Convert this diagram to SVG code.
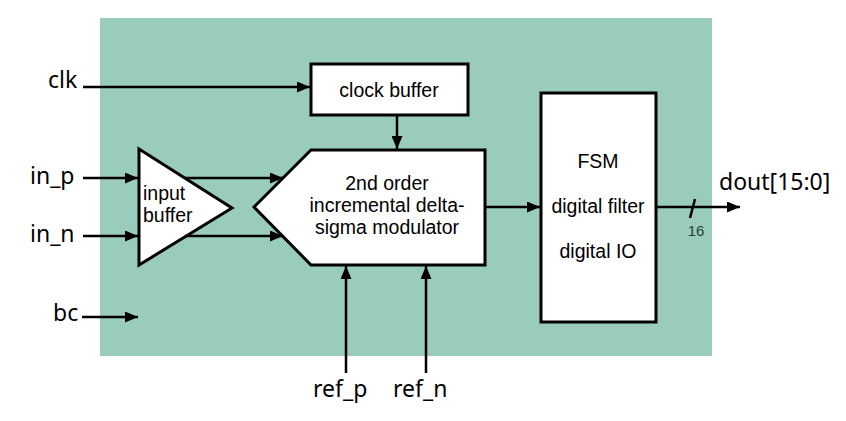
<svg xmlns="http://www.w3.org/2000/svg" width="846" height="421" viewBox="0 0 846 421">
<style>
.blk{fill:#fff;stroke:#000;stroke-width:3;stroke-linejoin:miter}
.t{font-family:"Liberation Sans",Arial,sans-serif;font-size:19.5px;fill:#000;text-anchor:middle}
.lab{font-family:"Noto Sans","Open Sans",sans-serif;font-size:23px;fill:#000}
.w{stroke:#000;stroke-width:2.5;fill:none}
</style>
<defs>
<marker id="ah" markerWidth="13" markerHeight="11" refX="13" refY="5.5" orient="auto" markerUnits="userSpaceOnUse">
<path d="M0,0 L13,5.5 L0,11 Z" fill="#000"/>
</marker>
</defs>
<rect x="100" y="18" width="612" height="338" fill="#99ccbb"/>
<g id="clock_buffer">
<rect class="blk" x="311" y="64" width="157" height="51"/>
<text class="t" x="389" y="97">clock buffer</text>
</g>
<g id="input_buffer">
<polygon class="blk" points="139,149 232,208 139,265"/>
<text class="t" x="143" y="200" style="text-anchor:start">input</text>
<text class="t" x="143" y="222" style="text-anchor:start">buffer</text>
</g>
<g id="modulator">
<polygon class="blk" points="311,150 485,150 485,265 311,265 254,207"/>
<text class="t" x="387" y="190">2nd order</text>
<text class="t" x="387" y="212">incremental delta-</text>
<text class="t" x="387" y="234">sigma modulator</text>
</g>
<g id="fsm">
<rect class="blk" x="541" y="93" width="115" height="229"/>
<text class="t" x="598" y="168">FSM</text>
<text class="t" x="598" y="213">digital filter</text>
<text class="t" x="598" y="258">digital IO</text>
</g>
<g id="connectors">
<line class="w" x1="83" y1="87" x2="310" y2="87" marker-end="url(#ah)"/>
<line class="w" x1="397" y1="116" x2="397" y2="149" marker-end="url(#ah)"/>
<line class="w" x1="83" y1="178" x2="138" y2="178" marker-end="url(#ah)"/>
<line class="w" x1="83" y1="236" x2="138" y2="236" marker-end="url(#ah)"/>
<line class="w" x1="185" y1="178" x2="283" y2="178" marker-end="url(#ah)"/>
<line class="w" x1="185" y1="236" x2="283" y2="236" marker-end="url(#ah)"/>
<line class="w" x1="82" y1="317" x2="138" y2="317" marker-end="url(#ah)"/>
<line class="w" x1="346" y1="373" x2="346" y2="266" marker-end="url(#ah)"/>
<line class="w" x1="426" y1="373" x2="426" y2="266" marker-end="url(#ah)"/>
<line class="w" x1="486" y1="207" x2="540" y2="207" marker-end="url(#ah)"/>
<line class="w" x1="657" y1="207" x2="740" y2="207" marker-end="url(#ah)"/>
<line class="w" x1="695" y1="199" x2="690" y2="218"/>
<text x="696" y="236" font-family="'Liberation Sans',Arial,sans-serif" font-size="15" fill="#1f3f36" text-anchor="middle">16</text>
</g>
<g id="labels">
<text class="lab" x="48" y="88">clk</text>
<text class="lab" x="30" y="184">in_p</text>
<text class="lab" x="30" y="242">in_n</text>
<text class="lab" x="53" y="321">bc</text>
<text class="lab" x="313" y="397">ref_p</text>
<text class="lab" x="393" y="397">ref_n</text>
<text class="lab" x="719" y="190">dout[15:0]</text>
</g>
</svg>
